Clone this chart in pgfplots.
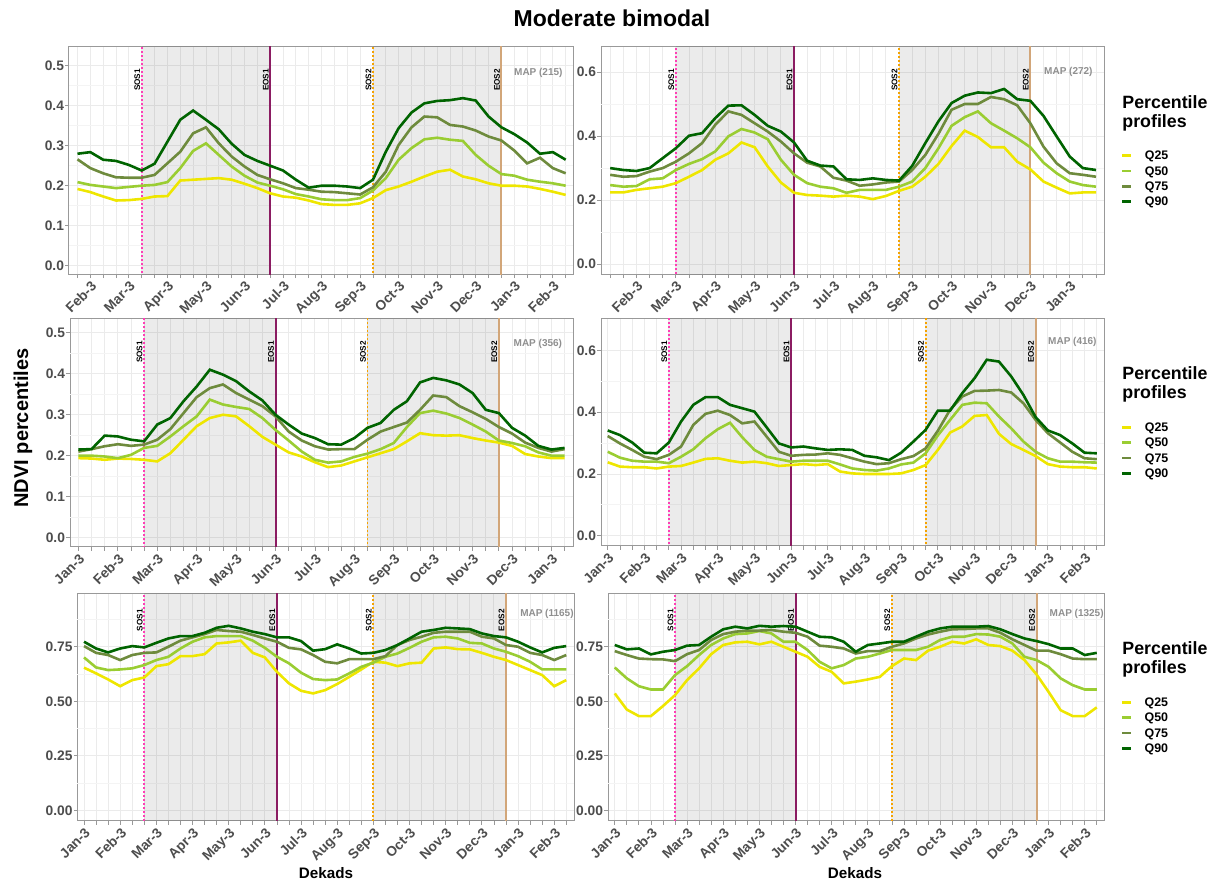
\documentclass[border=0pt]{standalone}
\usepackage{fontspec}
\setmainfont{Liberation Sans}
\usepackage{pgfplots}
\usepackage{pgfplotstable}
\pgfplotsset{compat=1.18}

\definecolor{cq25}{HTML}{EEE600}
\definecolor{cq50}{HTML}{9ACD32}
\definecolor{cq75}{HTML}{6E8B3D}
\definecolor{cq90}{HTML}{006400}
\definecolor{csos1}{HTML}{FF3EB5}
\definecolor{ceos1}{HTML}{8B1C62}
\definecolor{csos2}{HTML}{F5A300}
\definecolor{ceos2}{HTML}{D2A679}
\definecolor{border}{HTML}{999999}
\definecolor{tickgray}{HTML}{4D4D4D}
\definecolor{gridmaj}{HTML}{EBEBEB}
\definecolor{gridmin}{HTML}{F4F4F4}
\definecolor{mapgray}{HTML}{8F8F8F}

% Panel 1 (Feb-2 ... Mar-1)
\pgfplotstableread{
i q25 q50 q75 q90
0 .192 .209 .266 .280
1 .184 .202 .244 .284
2 .173 .198 .231 .265
3 .163 .194 .221 .262
4 .164 .197 .220 .252
5 .167 .200 .220 .238
6 .173 .202 .227 .255
7 .174 .209 .256 .310
8 .213 .244 .285 .365
9 .215 .287 .331 .388
10 .217 .306 .346 .365
11 .219 .277 .306 .341
12 .215 .248 .273 .305
13 .205 .225 .248 .277
14 .194 .208 .227 .262
15 .181 .200 .216 .250
16 .173 .191 .206 .238
17 .170 .179 .194 .215
18 .163 .173 .190 .195
19 .154 .166 .185 .200
20 .152 .164 .184 .200
21 .152 .164 .181 .198
22 .156 .169 .178 .194
23 .169 .188 .196 .215
24 .189 .219 .235 .285
25 .198 .265 .302 .344
26 .210 .294 .346 .383
27 .223 .316 .373 .406
28 .235 .320 .371 .412
29 .240 .315 .352 .414
30 .223 .312 .348 .419
31 .216 .277 .338 .413
32 .206 .250 .323 .373
33 .200 .229 .313 .346
34 .200 .225 .288 .329
35 .198 .215 .256 .308
36 .192 .210 .270 .280
37 .185 .206 .244 .284
38 .177 .200 .231 .265
}\tabA

% Panel 2 (Feb-1 ... Feb-2)
\pgfplotstableread{
i q25 q50 q75 q90
0 .224 .247 .279 .300
1 .224 .242 .273 .294
2 .232 .244 .275 .291
3 .237 .265 .289 .300
4 .242 .268 .300 .331
5 .253 .294 .320 .362
6 .273 .313 .346 .401
7 .294 .328 .378 .409
8 .326 .352 .435 .456
9 .346 .399 .477 .495
10 .380 .422 .466 .496
11 .365 .411 .440 .466
12 .305 .390 .414 .432
13 .255 .326 .383 .414
14 .223 .279 .346 .380
15 .216 .253 .317 .323
16 .214 .242 .305 .308
17 .211 .237 .270 .305
18 .214 .223 .261 .265
19 .211 .232 .245 .263
20 .203 .232 .249 .268
21 .213 .232 .255 .263
22 .229 .242 .258 .261
23 .242 .258 .294 .307
24 .273 .300 .341 .378
25 .313 .362 .407 .446
26 .369 .432 .482 .503
27 .417 .459 .500 .526
28 .397 .477 .500 .536
29 .365 .440 .522 .534
30 .365 .417 .515 .547
31 .320 .393 .496 .515
32 .296 .365 .440 .510
33 .258 .317 .367 .463
34 .239 .284 .315 .399
35 .221 .258 .284 .336
36 .224 .247 .279 .300
37 .224 .242 .273 .294
}\tabB

% Panel 3 (Jan-3 ... Feb-1)
\pgfplotstableread{
i q25 q50 q75 q90
0 .194 .200 .210 .215
1 .193 .200 .216 .216
2 .190 .198 .223 .249
3 .193 .194 .228 .247
4 .192 .202 .224 .239
5 .190 .219 .227 .235
6 .186 .224 .239 .276
7 .206 .247 .265 .292
8 .239 .272 .304 .333
9 .272 .296 .343 .369
10 .292 .337 .365 .410
11 .300 .325 .374 .398
12 .296 .319 .353 .382
13 .272 .314 .337 .357
14 .246 .292 .321 .335
15 .227 .263 .296 .300
16 .208 .237 .259 .276
17 .198 .210 .237 .254
18 .184 .190 .223 .243
19 .172 .183 .215 .228
20 .176 .186 .216 .227
21 .186 .197 .216 .243
22 .196 .205 .239 .268
23 .206 .216 .259 .280
24 .216 .231 .270 .312
25 .235 .270 .281 .333
26 .255 .304 .312 .379
27 .250 .310 .347 .390
28 .249 .303 .343 .384
29 .250 .292 .321 .374
30 .243 .276 .306 .353
31 .237 .259 .290 .312
32 .232 .237 .270 .304
33 .224 .231 .254 .268
34 .204 .223 .232 .249
35 .198 .208 .219 .224
36 .194 .200 .210 .215
37 .194 .200 .216 .219
}\tabC

% Panel 4 (Jan-3 ... Mar-1)
\pgfplotstableread{
i q25 q50 q75 q90
0 .238 .272 .323 .341
1 .224 .253 .299 .326
2 .222 .243 .278 .302
3 .222 .240 .256 .269
4 .218 .240 .248 .267
5 .224 .235 .262 .302
6 .226 .256 .289 .370
7 .237 .280 .359 .424
8 .249 .316 .395 .449
9 .251 .345 .405 .449
10 .243 .366 .391 .424
11 .237 .319 .364 .413
12 .240 .278 .370 .402
13 .235 .256 .321 .351
14 .226 .248 .272 .299
15 .229 .240 .259 .286
16 .232 .243 .262 .289
17 .229 .243 .263 .283
18 .232 .243 .267 .278
19 .208 .231 .262 .280
20 .202 .218 .251 .278
21 .200 .213 .240 .259
22 .200 .211 .232 .254
23 .200 .218 .235 .245
24 .202 .231 .248 .269
25 .213 .237 .258 .305
26 .229 .267 .283 .343
27 .278 .325 .340 .405
28 .334 .375 .408 .405
29 .354 .424 .451 .462
30 .388 .431 .469 .510
31 .391 .429 .470 .570
32 .330 .386 .472 .564
33 .297 .348 .464 .516
34 .278 .305 .429 .456
35 .258 .272 .375 .384
36 .232 .251 .332 .341
37 .224 .240 .302 .326
38 .222 .240 .272 .299
39 .222 .238 .251 .269
40 .218 .237 .248 .267
}\tabD

% Panel 5 (Jan-3 ... Mar-1)
\pgfplotstableread{
i q25 q50 q75 q90
0 .654 .701 .753 .773
1 .628 .655 .722 .742
2 .600 .643 .712 .724
3 .569 .646 .689 .742
4 .597 .651 .712 .753
5 .609 .666 .722 .747
6 .661 .689 .724 .768
7 .670 .704 .750 .788
8 .707 .742 .778 .799
9 .707 .773 .793 .799
10 .716 .793 .808 .814
11 .765 .799 .827 .837
12 .770 .799 .822 .846
13 .778 .799 .819 .834
14 .722 .778 .804 .819
15 .701 .745 .788 .808
16 .635 .704 .773 .793
17 .582 .674 .745 .793
18 .548 .631 .738 .776
19 .536 .602 .712 .732
20 .551 .597 .681 .739
21 .579 .600 .674 .761
22 .612 .628 .693 .742
23 .646 .658 .693 .719
24 .681 .677 .693 .722
25 .677 .704 .707 .735
26 .661 .719 .758 .758
27 .674 .745 .781 .788
28 .677 .773 .796 .819
29 .742 .793 .814 .827
30 .747 .796 .819 .837
31 .739 .788 .819 .834
32 .738 .768 .819 .831
33 .722 .765 .796 .811
34 .704 .742 .788 .799
35 .689 .727 .758 .793
36 .666 .707 .750 .773
37 .643 .681 .722 .747
38 .620 .646 .712 .724
39 .569 .646 .689 .745
40 .597 .646 .712 .753
}\tabE

% Panel 6 (Jan-3 ... Mar-1)
\pgfplotstableread{
i q25 q50 q75 q90
0 .536 .655 .730 .758
1 .462 .605 .712 .738
2 .432 .569 .696 .742
3 .432 .554 .693 .715
4 .478 .554 .692 .727
5 .528 .620 .684 .735
6 .597 .661 .716 .755
7 .651 .712 .735 .758
8 .716 .758 .781 .796
9 .758 .788 .808 .830
10 .770 .808 .819 .842
11 .773 .811 .824 .834
12 .761 .822 .824 .846
13 .773 .811 .827 .842
14 .750 .773 .819 .845
15 .727 .773 .814 .842
16 .704 .735 .796 .819
17 .658 .681 .755 .796
18 .635 .651 .750 .793
19 .582 .666 .742 .773
20 .590 .696 .719 .727
21 .600 .704 .730 .758
22 .612 .719 .730 .765
23 .661 .735 .750 .773
24 .696 .735 .765 .773
25 .689 .735 .788 .796
26 .732 .750 .806 .819
27 .750 .781 .819 .834
28 .773 .796 .830 .842
29 .765 .796 .831 .842
30 .784 .808 .834 .842
31 .758 .806 .834 .845
32 .753 .796 .814 .830
33 .732 .765 .784 .808
34 .689 .704 .758 .788
35 .623 .689 .732 .776
36 .543 .658 .732 .762
37 .459 .605 .716 .742
38 .432 .574 .696 .742
39 .432 .554 .693 .712
40 .472 .554 .693 .722
}\tabF

\tikzset{
  lbl/.style={rotate=90, font=\bfseries\fontsize{4.1}{4.5}\selectfont, inner sep=0.6pt, text=black},
  maplbl/.style={font=\bfseries\fontsize{5}{6}\selectfont, text=mapgray, inner sep=0pt},
  dotl/.style={line width=0.9pt, dash pattern=on 0.9pt off 1.1pt},
}

\pgfplotsset{
  panel/.style={
    scale only axis, anchor=south west,
    axis line style={draw=border, line width=0.5pt},
    tick style={draw=border, line width=0.4pt},
    major tick length=1.8pt, minor tick length=1.8pt,
    tick align=outside, tick pos=left,
    xmajorgrids, xminorgrids, ymajorgrids,
    major grid style={draw=gridmaj, line width=0.45pt},
    minor grid style={draw=gridmaj, line width=0.45pt},
    ticklabel style={font=\bfseries\fontsize{6.9}{7}\selectfont, text=tickgray},
    xticklabel style={rotate=45, anchor=north east, inner sep=0.6pt},
    yticklabel style={inner sep=0.5pt},
    /pgf/number format/assume math mode=true,
    yticklabel style={/pgf/number format/.cd, fixed, fixed zerofill, precision=1},
    extra y tick labels={},
    extra y tick style={major tick length=0pt, major grid style={draw=gridmin, line width=0.4pt}},
    clip=true,
  },
  withlegend/.style={
    legend style={at={(1.034,0.545)}, anchor=north west, draw=none, fill=none,
      inner sep=0pt, outer sep=0pt, row sep=2.6pt,
      font=\bfseries\fontsize{6.2}{7}\selectfont,
      nodes={inner sep=0pt, text height=4.6pt, text depth=0.5pt}},
    legend cell align=left,
    legend image code/.code={\draw[##1, line width=1.3pt] (0pt,0pt) -- (4.2pt,0pt); \path (10.6pt,0pt);},
  },
}

\newcommand{\seasons}[5]{%
  \addplot[forget plot, draw=none, fill=black, fill opacity=0.08] coordinates {(#1,-5) (#2,-5) (#2,5) (#1,5)};
  \addplot[forget plot, draw=none, fill=black, fill opacity=0.08] coordinates {(#3,-5) (#4,-5) (#4,5) (#3,5)};
  \addplot[forget plot, csos1, dotl] coordinates {(#1,-5) (#1,5)};
  \addplot[forget plot, ceos1, line width=1pt] coordinates {(#2,-5) (#2,5)};
  \addplot[forget plot, csos2, dotl] coordinates {(#3,-5) (#3,5)};
  \addplot[forget plot, ceos2, line width=1pt] coordinates {(#4,-5) (#4,5)};
  \node[lbl, anchor=south east] at ({axis cs:#1,0}|-{rel axis cs:0,#5}) {SOS1};
  \node[lbl, anchor=south east] at ({axis cs:#2,0}|-{rel axis cs:0,#5}) {EOS1};
  \node[lbl, anchor=south east] at ({axis cs:#3,0}|-{rel axis cs:0,#5}) {SOS2};
  \node[lbl, anchor=south east] at ({axis cs:#4,0}|-{rel axis cs:0,#5}) {EOS2};
}
\newcommand{\quarts}[1]{%
  \addplot[cq25, line width=1.3pt] table[x=i, y=q25] {#1};
  \addplot[cq50, line width=1.3pt] table[x=i, y=q50] {#1};
  \addplot[cq75, line width=1.3pt] table[x=i, y=q75] {#1};
  \addplot[cq90, line width=1.3pt] table[x=i, y=q90] {#1};
}

\begin{document}
\begin{tikzpicture}
\path[use as bounding box] (0,0) rectangle (608pt,441.5pt);

% ---------- Panel 1 ----------
\begin{axis}[panel, at={(34.5pt,304.25pt)}, width=252pt, height=113.75pt,
  xmin=-0.66, xmax=38.57, ymin=-0.022, ymax=0.547,
  xtick={1,4,...,37},
  xticklabels={Feb-3,Mar-3,Apr-3,May-3,Jun-3,Jul-3,Aug-3,Sep-3,Oct-3,Nov-3,Dec-3,Jan-3,Feb-3},
  minor xtick={0,...,38},
  ytick={0,0.1,0.2,0.3,0.4,0.5}, extra y ticks={0.05,0.15,0.25,0.35,0.45}]
\seasons{5}{15}{23}{33}{0.91}
\quarts{\tabA}
\node[maplbl, anchor=east] at (rel axis cs:0.98,0.884) {MAP (215)};
\end{axis}

% ---------- Panel 2 ----------
\begin{axis}[panel, withlegend, at={(300.5pt,304.25pt)}, width=251.5pt, height=113.75pt,
  xmin=-0.70, xmax=37.61, ymin=-0.032, ymax=0.678,
  xtick={2,5,...,35},
  xticklabels={Feb-3,Mar-3,Apr-3,May-3,Jun-3,Jul-3,Aug-3,Sep-3,Oct-3,Nov-3,Dec-3,Jan-3},
  minor xtick={0,...,37},
  ytick={0,0.2,0.4,0.6}, extra y ticks={0.1,0.3,0.5}]
\seasons{5}{14}{22}{32}{0.91}
\quarts{\tabB}
\legend{Q25,Q50,Q75,Q90}
\node[maplbl, anchor=east] at (rel axis cs:0.978,0.891) {MAP (272)};
\end{axis}

% ---------- Panel 3 ----------
\begin{axis}[panel, at={(35pt,168pt)}, width=251.5pt, height=114pt,
  xmin=-0.64, xmax=37.64, ymin=-0.023, ymax=0.534,
  xtick={0,3,...,36},
  xticklabels={Jan-3,Feb-3,Mar-3,Apr-3,May-3,Jun-3,Jul-3,Aug-3,Sep-3,Oct-3,Nov-3,Dec-3,Jan-3},
  minor xtick={0,...,37},
  ytick={0,0.1,0.2,0.3,0.4,0.5}, extra y ticks={0.05,0.15,0.25,0.35,0.45}]
\seasons{5}{15}{22}{32}{0.91}
\quarts{\tabC}
\node[maplbl, anchor=east] at (rel axis cs:0.979,0.889) {MAP (356)};
\end{axis}

% ---------- Panel 4 ----------
\begin{axis}[panel, withlegend, at={(300.5pt,168.5pt)}, width=251.5pt, height=113.5pt,
  xmin=-0.55, xmax=40.59, ymin=-0.033, ymax=0.702,
  xtick={0,3,...,39},
  xticklabels={Jan-3,Feb-3,Mar-3,Apr-3,May-3,Jun-3,Jul-3,Aug-3,Sep-3,Oct-3,Nov-3,Dec-3,Jan-3,Feb-3},
  minor xtick={0,...,40},
  ytick={0,0.2,0.4,0.6}, extra y ticks={0.1,0.3,0.5}]
\seasons{5}{15}{26}{35}{0.91}
\quarts{\tabD}
\legend{Q25,Q50,Q75,Q90}
\node[maplbl, anchor=east] at (rel axis cs:0.986,0.897) {MAP (416)};
\end{axis}

% ---------- Panel 5 ----------
\begin{axis}[panel, at={(38.75pt,31pt)}, width=248.25pt, height=113.5pt,
  xmin=-0.54, xmax=40.64, ymin=-0.049, ymax=0.992,
  xtick={0,3,...,39},
  xticklabels={Jan-3,Feb-3,Mar-3,Apr-3,May-3,Jun-3,Jul-3,Aug-3,Sep-3,Oct-3,Nov-3,Dec-3,Jan-3,Feb-3},
  minor xtick={0,...,40},
  ytick={0,0.25,0.5,0.75}, extra y ticks={0.125,0.375,0.625,0.875},
  yticklabel style={/pgf/number format/.cd, fixed, fixed zerofill, precision=2}]
\seasons{5}{16}{24}{35}{0.94}
\quarts{\tabE}
\node[maplbl, anchor=east] at (rel axis cs:1.0,0.91) {MAP (1165)};
\end{axis}

% ---------- Panel 6 ----------
\begin{axis}[panel, withlegend, at={(304pt,31pt)}, width=248pt, height=113.5pt,
  xmin=-0.56, xmax=40.6, ymin=-0.049, ymax=0.992,
  xtick={0,3,...,39},
  xticklabels={Jan-3,Feb-3,Mar-3,Apr-3,May-3,Jun-3,Jul-3,Aug-3,Sep-3,Oct-3,Nov-3,Dec-3,Jan-3,Feb-3},
  minor xtick={0,...,40},
  ytick={0,0.25,0.5,0.75}, extra y ticks={0.125,0.375,0.625,0.875},
  yticklabel style={/pgf/number format/.cd, fixed, fixed zerofill, precision=2}]
\seasons{5}{15}{23}{35}{0.94}
\quarts{\tabF}
\legend{Q25,Q50,Q75,Q90}
\node[maplbl, anchor=east] at (rel axis cs:1.0,0.91) {MAP (1325)};
\end{axis}

% ---------- Texts ----------
\node[font=\bfseries\fontsize{11.5}{13}\selectfont] at (306pt,432.5pt) {Moderate bimodal};
\node[font=\bfseries\fontsize{10}{12}\selectfont, rotate=90] at (11.5pt,227.5pt) {NDVI percentiles};
\node[font=\bfseries\fontsize{7.6}{9}\selectfont] at (163pt,5pt) {Dekads};
\node[font=\bfseries\fontsize{7.6}{9}\selectfont] at (427.5pt,5pt) {Dekads};
\foreach \yb in {387,251.65,114.15}{
  \node[font=\bfseries\fontsize{8.9}{10}\selectfont, anchor=base west, inner sep=0pt] at (561pt,\yb pt) {Percentile};
  \node[font=\bfseries\fontsize{8.9}{10}\selectfont, anchor=base west, inner sep=0pt] at (561pt,\yb pt-9.5pt) {profiles};
}
\end{tikzpicture}
\end{document}
